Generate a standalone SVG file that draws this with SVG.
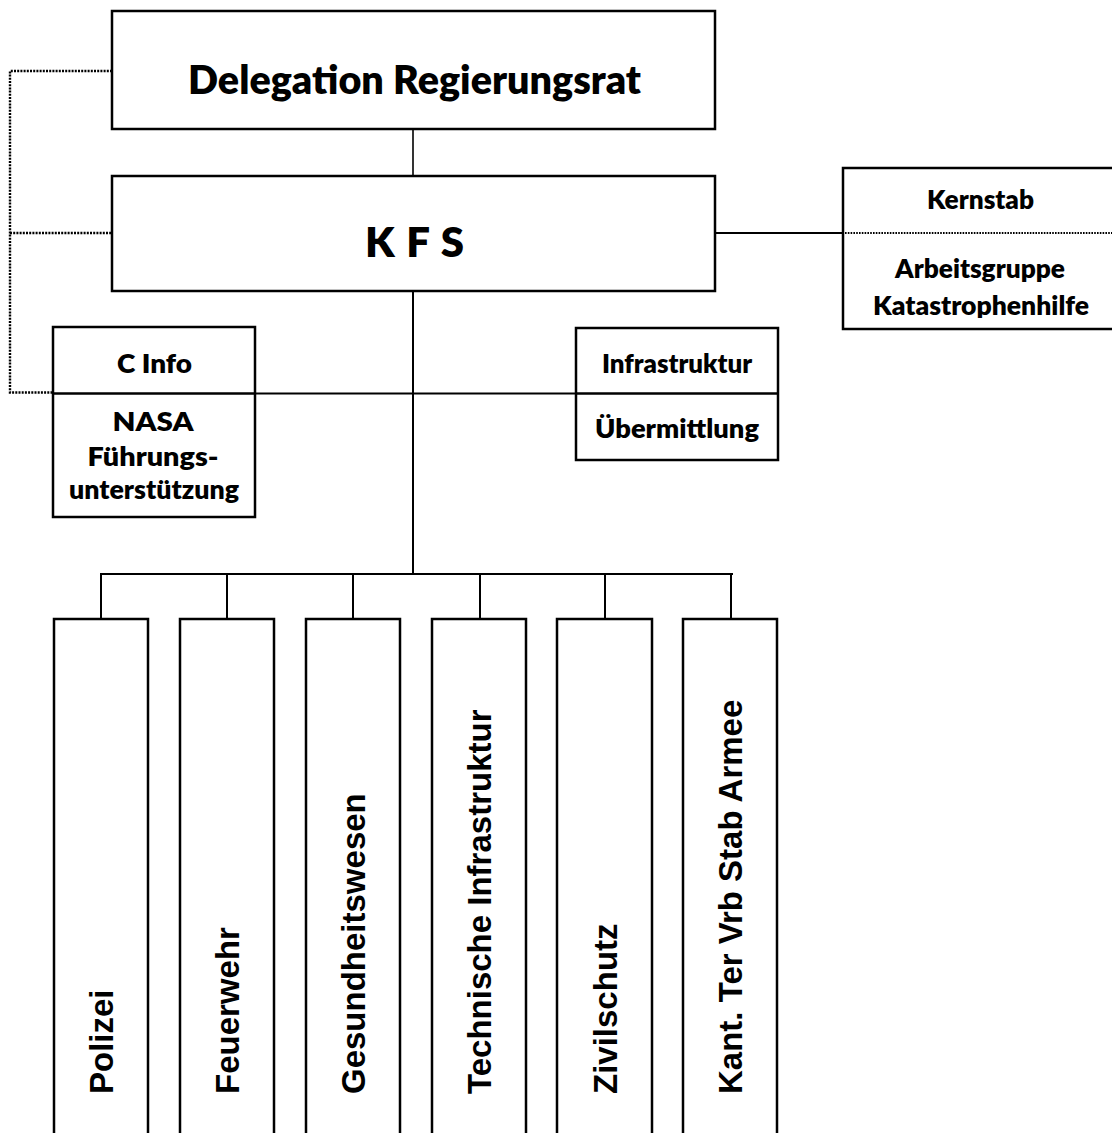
<svg xmlns="http://www.w3.org/2000/svg" width="1112" height="1133" viewBox="0 0 1112 1133">
<style>
.box{fill:#fff;stroke:#000;stroke-width:2.5}
.ln{fill:none;stroke:#000;stroke-width:2}
.thin{fill:none;stroke:#000;stroke-width:1.6}
.dot{fill:none;stroke:#000;stroke-width:2.4;stroke-dasharray:2 1.2}
.dot2{fill:none;stroke:#000;stroke-width:1.8;stroke-dasharray:1.6 1.2}
.h{font-family:Lato,"Liberation Sans",sans-serif;font-weight:800;fill:#000}
.big{font-size:40px}
.sm{font-size:26px}
.v{font-family:"Liberation Sans",Arial,sans-serif;font-weight:700;font-size:33px;fill:#000}
</style>
<defs>
<clipPath id="kclip"><rect x="843" y="168" width="280" height="150"/></clipPath>
</defs>
<rect width="1112" height="1133" fill="#fff"/>
<g id="connectors">
<path class="dot" d="M112 71H10V392.5H53"/>
<path class="dot" d="M10 233H112"/>
<path class="thin" d="M413 129V176"/>
<path class="ln" d="M413 291V574"/>
<path class="ln" d="M715 233H843"/>
<path class="ln" d="M255 393.5H576"/>
<path class="ln" d="M100 574H733"/>
<path class="ln" d="M101 574V619M227 574V619M353 574V619M480 574V619M605 574V619M731 574V619"/>
</g>
<g id="delegation">
<rect class="box" x="112" y="11" width="603" height="118"/>
<text class="h big" x="414.5" y="94" text-anchor="middle" textLength="453" lengthAdjust="spacingAndGlyphs">Delegation Regierungsrat</text>
</g>
<g id="kfs">
<rect class="box" x="112" y="176" width="603" height="115"/>
<text class="h" font-size="42" x="414.5" y="257" text-anchor="middle" textLength="99" lengthAdjust="spacing">K F S</text>
</g>
<g id="kernstab">
<rect class="box" x="843" y="168" width="280" height="161"/>
<path class="dot2" d="M845 233H1112"/>
<text class="h sm" x="980.5" y="209" text-anchor="middle" textLength="107" lengthAdjust="spacingAndGlyphs">Kernstab</text>
<g clip-path="url(#kclip)">
<text class="h sm" x="980" y="278" text-anchor="middle" textLength="170" lengthAdjust="spacingAndGlyphs">Arbeitsgruppe</text>
<text class="h sm" x="981" y="315" text-anchor="middle" textLength="216" lengthAdjust="spacingAndGlyphs">Katastrophenhilfe</text>
</g>
</g>
<g id="cinfo">
<rect class="box" x="53" y="327" width="202" height="190"/>
<path class="box" d="M53 393.5H255"/>
<text class="h sm" x="154.5" y="373" text-anchor="middle" textLength="75" lengthAdjust="spacingAndGlyphs">C Info</text>
<text class="h sm" x="153" y="431" text-anchor="middle" textLength="81" lengthAdjust="spacingAndGlyphs">NASA</text>
<text class="h sm" x="153" y="466" text-anchor="middle" textLength="131" lengthAdjust="spacingAndGlyphs">Führungs-</text>
<text class="h sm" x="154" y="499" text-anchor="middle" textLength="170" lengthAdjust="spacingAndGlyphs">unterstützung</text>
</g>
<g id="infrastruktur">
<rect class="box" x="576" y="328" width="202" height="132"/>
<path class="box" d="M576 393.5H778"/>
<text class="h sm" x="677" y="373" text-anchor="middle" textLength="150" lengthAdjust="spacingAndGlyphs">Infrastruktur</text>
<text class="h sm" x="677" y="438" text-anchor="middle" textLength="164" lengthAdjust="spacingAndGlyphs">Übermittlung</text>
</g>
<g id="polizei">
<rect class="box" x="54" y="619" width="94" height="530"/>
<text class="v" transform="translate(113 1094) rotate(-90)">Polizei</text>
</g>
<g id="feuerwehr">
<rect class="box" x="180" y="619" width="94" height="530"/>
<text class="v" transform="translate(239 1094) rotate(-90)">Feuerwehr</text>
</g>
<g id="gesundheitswesen">
<rect class="box" x="306" y="619" width="94" height="530"/>
<text class="v" transform="translate(365 1094) rotate(-90)">Gesundheitswesen</text>
</g>
<g id="technische">
<rect class="box" x="432" y="619" width="94" height="530"/>
<text class="v" transform="translate(491 1094) rotate(-90)">Technische Infrastruktur</text>
</g>
<g id="zivilschutz">
<rect class="box" x="557" y="619" width="95" height="530"/>
<text class="v" transform="translate(616.5 1094) rotate(-90)">Zivilschutz</text>
</g>
<g id="armee">
<rect class="box" x="683" y="619" width="94" height="530"/>
<text class="v" transform="translate(742 1094) rotate(-90)">Kant. Ter Vrb Stab Armee</text>
</g>
</svg>
